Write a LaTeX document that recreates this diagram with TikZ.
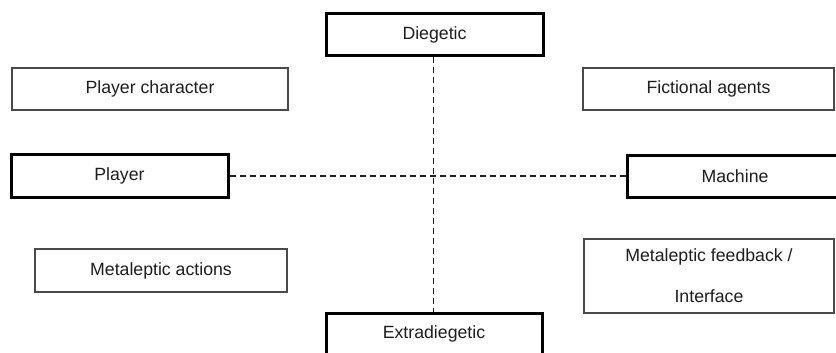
\documentclass[tikz,border=0pt]{standalone}
\usepackage{fontspec}
\setmainfont{Liberation Sans}
\definecolor{ink}{HTML}{1E1E1E}
\definecolor{rim}{HTML}{4A4A4A}
\tikzset{
  plainbox/.style={draw=rim, line width=1.6pt, fill=white, rectangle,
    inner sep=0pt, text=ink, font=\fontsize{17.7}{20}\selectfont},
  axisbox/.style={plainbox, draw=black, line width=3pt},
  axisline/.style={draw=ink, line width=1.5pt, dash pattern=on 6pt off 4pt}
}
\begin{document}
\begin{tikzpicture}[x=1pt,y=-1pt]
  \useasboundingbox (0,0) rectangle (836,353);
  \clip (0,0) rectangle (836,353);

  % axis ends
  \node[axisbox, minimum width=217pt, minimum height=42pt] (dieg) at (434.5,35) {Diegetic};
  \node[axisbox, minimum width=216pt, minimum height=42pt] (extra) at (434,334) {Extradiegetic};
  \node[axisbox, minimum width=217pt, minimum height=43pt] (player) at (119.5,176) {Player};
  \node[axisbox, minimum width=216pt, minimum height=42pt] (machine) at (735,176) {Machine};

  % quadrant labels
  \node[plainbox, minimum width=276pt, minimum height=42pt] (pchar) at (150,89) {Player character};
  \node[plainbox, minimum width=251pt, minimum height=42pt] (fict) at (708.5,89) {Fictional agents};
  \node[plainbox, minimum width=252pt, minimum height=43pt] (meta) at (161,270.5) {Metaleptic actions};
  \node[plainbox, minimum width=250pt, minimum height=74pt, align=center,
        font=\fontsize{17.7}{41}\selectfont] (feed) at (709,276)
        {Metaleptic feedback /\\Interface};

  % dashed axes between the boxes
  \coordinate (vx) at (433.5,0);
  \draw[axisline] (dieg.south -| vx) -- (extra.north -| vx);
  \draw[axisline] (player.east) -- (machine.west);
\end{tikzpicture}
\end{document}
